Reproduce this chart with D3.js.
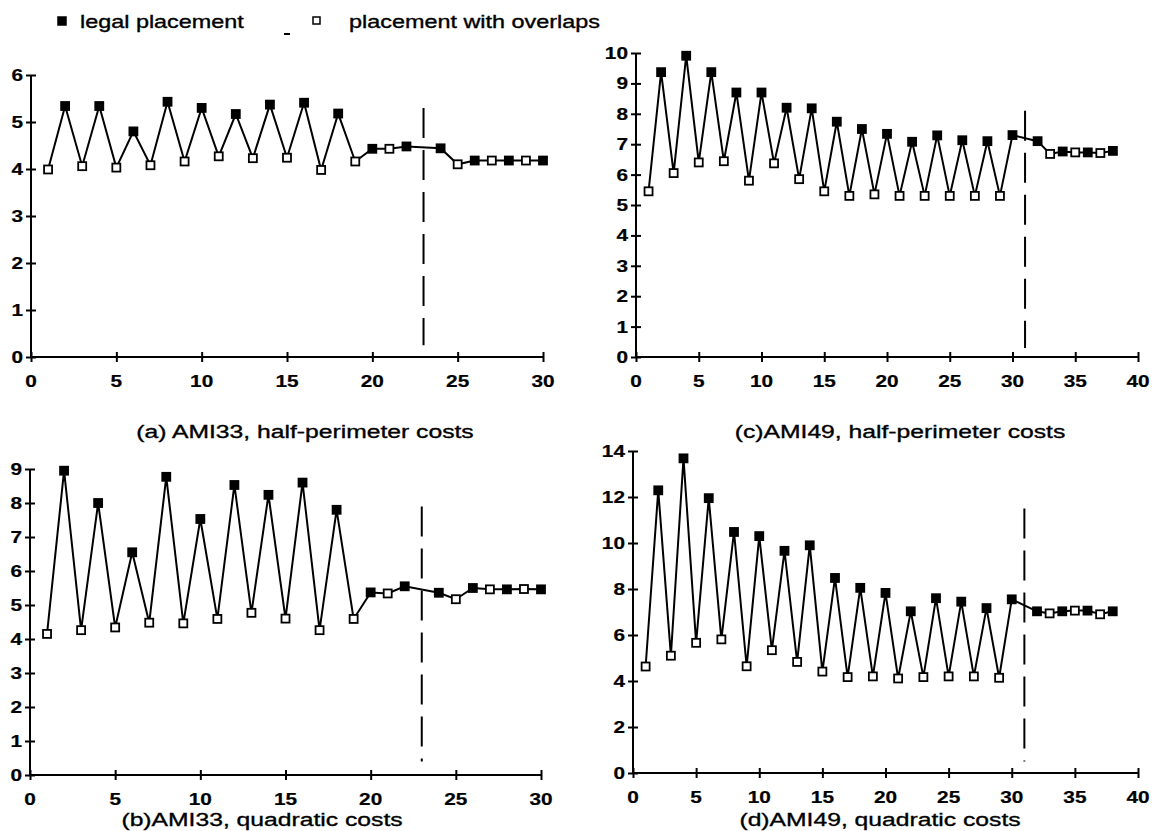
<!DOCTYPE html>
<html><head><meta charset="utf-8">
<script src="https://cdn.jsdelivr.net/npm/d3@7"></script>
<style>body{margin:0;background:#fff}</style>
</head><body>
<svg id="chart" width="1155" height="831"></svg>
<script>
// ---------- data ----------
const legendLabels = ["legal placement", "placement with overlaps"];
const captions = ["(a) AMI33, half-perimeter costs", "(b)AMI33, quadratic costs",
                  "(c)AMI49, half-perimeter costs", "(d)AMI49, quadratic costs"];

const xTicks30 = [0, 5, 10, 15, 20, 25, 30];
const xTicks40 = [0, 5, 10, 15, 20, 25, 30, 35, 40];
const yTicksA = [0, 1, 2, 3, 4, 5, 6];
const yTicksB = [0, 1, 2, 3, 4, 5, 6, 7, 8, 9];
const yTicksC = [0, 1, 2, 3, 4, 5, 6, 7, 8, 9, 10];
const yTicksD = [0, 2, 4, 6, 8, 10, 12, 14];

// L = legal placement (filled), O = placement with overlaps (open)
const aX = [1,2,3,4,5,6,7,8,9,10,11,12,13,14,15,16,17,18,19,20,21,22,24,25,26,27,28,29,30];
const aY = [3.99,5.34,4.06,5.34,4.03,4.8,4.08,5.43,4.16,5.3,4.27,5.17,4.23,5.37,4.24,5.41,3.98,5.18,4.16,4.43,4.43,4.48,4.44,4.1,4.18,4.18,4.18,4.18,4.18];
const aT = ["O","L","O","L","O","L","O","L","O","L","O","L","O","L","O","L","O","L","O","L","O","L","L","O","L","O","L","O","L"];

const bX = [1,2,3,4,5,6,7,8,9,10,11,12,13,14,15,16,17,18,19,20,21,22,24,25,26,27,28,29,30];
const bY = [4.15,8.95,4.26,8.0,4.34,6.55,4.48,8.77,4.46,7.53,4.59,8.53,4.77,8.24,4.6,8.6,4.26,7.8,4.59,5.37,5.34,5.55,5.36,5.17,5.5,5.46,5.46,5.47,5.46];
const bT = ["O","L","O","L","O","L","O","L","O","L","O","L","O","L","O","L","O","L","O","L","O","L","L","O","L","O","L","O","L"];

const cX = [1,2,3,4,5,6,7,8,9,10,11,12,13,14,15,16,17,18,19,20,21,22,23,24,25,26,27,28,29,30,32,33,34,35,36,37,38];
const cY = [5.45,9.37,6.05,9.91,6.4,9.37,6.44,8.7,5.8,8.7,6.37,8.2,5.85,8.18,5.45,7.74,5.3,7.5,5.35,7.34,5.3,7.08,5.3,7.29,5.3,7.13,5.3,7.1,5.3,7.3,7.1,6.68,6.76,6.73,6.73,6.71,6.78];
const cT = ["O","L","O","L","O","L","O","L","O","L","O","L","O","L","O","L","O","L","O","L","O","L","O","L","O","L","O","L","O","L","L","O","L","O","L","O","L"];

const dX = [1,2,3,4,5,6,7,8,9,10,11,12,13,14,15,16,17,18,19,20,21,22,23,24,25,26,27,28,29,30,32,33,34,35,36,37,38];
const dY = [4.63,12.29,5.1,13.68,5.66,11.95,5.81,10.48,4.64,10.3,5.34,9.66,4.83,9.9,4.41,8.48,4.17,8.05,4.2,7.83,4.11,7.03,4.17,7.6,4.2,7.45,4.2,7.17,4.14,7.55,7.03,6.94,7.03,7.06,7.06,6.9,7.03];
const dT = ["O","L","O","L","O","L","O","L","O","L","O","L","O","L","O","L","O","L","O","L","O","L","O","L","O","L","O","L","O","L","L","O","L","O","L","O","L"];

// vertical dashed divider (x value, y extent in data units)
const dividerX = [23, 23, 31, 31];
const dividerY = [[0.25, 5.3], [0.4, 7.9], [0.3, 8.1], [0.5, 11.5]];

// ---------- layout ----------
const FONT = "'Liberation Sans', Arial, Helvetica, sans-serif";
const SX = 1.3; // horizontal stretch of scanned lettering
const panels = [
  {xs:aX, ys:aY, ts:aT, xd:[0,30], yd:[0,6],  xt:xTicks30, yt:yTicksA, L:31,  R:543,  T:75,  B:357, div:0, cap:captions[0], cx:305, cy:438},
  {xs:bX, ys:bY, ts:bT, xd:[0,30], yd:[0,9],  xt:xTicks30, yt:yTicksB, L:30,  R:541,  T:469, B:775, div:1, cap:captions[1], cx:262, cy:826},
  {xs:cX, ys:cY, ts:cT, xd:[0,40], yd:[0,10], xt:xTicks40, yt:yTicksC, L:636, R:1138, T:53,  B:357, div:2, cap:captions[2], cx:900, cy:438},
  {xs:dX, ys:dY, ts:dT, xd:[0,40], yd:[0,14], xt:xTicks40, yt:yTicksD, L:633, R:1138, T:451, B:773, div:3, cap:captions[3], cx:880, cy:826}
];

const svg = d3.select("#chart");
svg.append("rect").attr("width",1155).attr("height",831).attr("fill","#fff");

function stext(g, x, y, str, size, weight, anchor, sw) {
  return g.append("text")
    .attr("transform", `translate(${x},${y}) scale(${SX},1)`)
    .attr("text-anchor", anchor)
    .attr("font-family", FONT)
    .attr("font-size", size)
    .attr("font-weight", weight)
    .attr("fill", "#000")
    .attr("stroke", "#000").attr("stroke-width", sw)
    .text(str);
}

const MS = 8; // marker size
panels.forEach(p => {
  const g = svg.append("g");
  const x = d3.scaleLinear().domain(p.xd).range([p.L, p.R]);
  const y = d3.scaleLinear().domain(p.yd).range([p.B, p.T]);

  // axes
  const ax = g.append("g").attr("transform", `translate(0,${p.B})`)
    .call(d3.axisBottom(x).tickValues(p.xt).tickSize(5).tickFormat(""));
  const ay = g.append("g").attr("transform", `translate(${p.L},0)`)
    .call(d3.axisLeft(y).tickValues(p.yt).tickSize(5).tickFormat(""));
  ax.select(".domain").attr("d", `M${p.L},0H${p.R}`).attr("stroke-width", 2);
  ay.select(".domain").attr("d", `M0,${p.B}V${p.T}`).attr("stroke-width", 2);
  ax.selectAll(".tick line").attr("y1", -5).attr("stroke-width", 2);
  ay.selectAll(".tick line").attr("x1", 5).attr("stroke-width", 2);

  // tick labels
  p.xt.forEach(v => stext(g, x(v), p.B + 30, String(v), 16, "bold", "middle", 0.2));
  p.yt.forEach(v => stext(g, p.L - 8, y(v) + 6, String(v), 16, "bold", "end", 0.2));

  // divider
  const dy = dividerY[p.div];
  g.append("line")
    .attr("x1", x(dividerX[p.div])).attr("x2", x(dividerX[p.div]))
    .attr("y1", y(dy[1])).attr("y2", y(dy[0]))
    .attr("stroke", "#000").attr("stroke-width", 2).attr("stroke-dasharray", "30,12");

  // line
  const pts = p.xs.map((v, i) => [v, p.ys[i], p.ts[i]]);
  g.append("path").datum(pts)
    .attr("d", d3.line().x(d => x(d[0])).y(d => y(d[1])))
    .attr("fill", "none").attr("stroke", "#000").attr("stroke-width", 2);

  // markers
  g.selectAll("rect.m").data(pts).enter().append("rect")
    .attr("x", d => x(d[0]) - MS/2).attr("y", d => y(d[1]) - MS/2)
    .attr("width", MS).attr("height", MS)
    .attr("fill", d => d[2] === "L" ? "#000" : "#fff")
    .attr("stroke", "#000").attr("stroke-width", 1.8);

  // caption
  stext(g, p.cx, p.cy, p.cap, 19, "normal", "middle", 0.35);
});

// legend
const lg = svg.append("g");
lg.append("rect").attr("x", 58).attr("y", 17).attr("width", 8).attr("height", 8)
  .attr("fill", "#000").attr("stroke", "#000").attr("stroke-width", 1.5);
stext(lg, 80, 28, legendLabels[0], 18, "normal", "start", 0.35);
lg.append("rect").attr("x", 313).attr("y", 17).attr("width", 7).attr("height", 7)
  .attr("fill", "#fff").attr("stroke", "#000").attr("stroke-width", 1.5);
stext(lg, 349, 28, legendLabels[1], 18, "normal", "start", 0.35);
lg.append("rect").attr("x", 284).attr("y", 33).attr("width", 6).attr("height", 2).attr("fill", "#000");
</script>
</body></html>
